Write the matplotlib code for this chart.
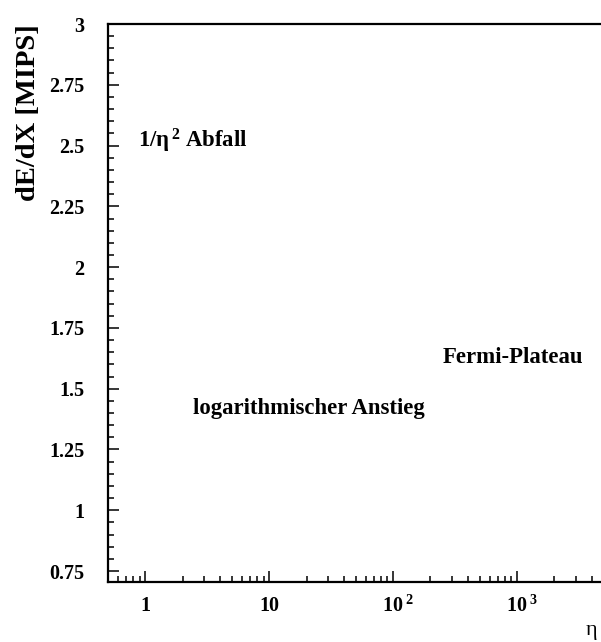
import numpy as np
import matplotlib.pyplot as plt
import matplotlib.transforms as mtransforms
from matplotlib.ticker import FixedLocator, FixedFormatter, LogLocator, MultipleLocator

# axis ticks and labels
x_ticks = [1, 10, 100, 1000]
x_tick_labels = ['1', '10', r'10$^{\;\mathbf{2}}$', r'10$^{\;\mathbf{3}}$']
y_ticks = [0.75, 1.0, 1.25, 1.5, 1.75, 2.0, 2.25, 2.5, 2.75, 3.0]
y_tick_labels = ['0.75', '1', '1.25', '1.5', '1.75', '2', '2.25', '2.5', '2.75', '3']

# region annotations (eta, dE/dX)
notes = [r'1/$\mathbf{\eta}^{\,\mathbf{2}}$ Abfall', 'logarithmischer Anstieg', 'Fermi-Plateau']
note_x = [0.88, 2.44, 253]
note_y = [2.52, 1.42, 1.63]

plt.rcParams['font.family'] = 'Liberation Serif'
plt.rcParams['font.weight'] = 'bold'
plt.rcParams['mathtext.fontset'] = 'custom'
plt.rcParams['mathtext.rm'] = 'Liberation Serif:bold'
plt.rcParams['mathtext.bf'] = 'Liberation Serif:bold'
plt.rcParams['mathtext.it'] = 'Liberation Serif:bold'

W, H = 601, 642
fig = plt.figure(figsize=(W / 100, H / 100), dpi=100)
ax = fig.add_axes([108 / W, 60 / H, (603.7 - 108) / W, (582 - 24) / H])

ax.set_xscale('log')
ax.set_xlim(0.5, 5000)
ax.set_ylim(0.705, 3.0)

ax.xaxis.set_major_locator(FixedLocator(x_ticks))
ax.xaxis.set_major_formatter(FixedFormatter(x_tick_labels))
ax.xaxis.set_minor_locator(LogLocator(base=10, subs=np.arange(2, 10), numticks=20))
ax.xaxis.set_minor_formatter(FixedFormatter([]))
ax.yaxis.set_major_locator(FixedLocator(y_ticks))
ax.yaxis.set_major_formatter(FixedFormatter(y_tick_labels))
ax.yaxis.set_minor_locator(MultipleLocator(0.05))

ax.tick_params(which='major', direction='in', length=8, width=1.1, labelsize=14.5)
ax.tick_params(which='minor', direction='in', length=4, width=1.1)
ax.tick_params(axis='y', which='both', right=False, pad=17)
ax.tick_params(axis='x', which='both', top=False, pad=10)

for s in ax.spines.values():
    s.set_linewidth(1.6)
ax.spines['right'].set_visible(False)

# centre the "10" of the power labels on the tick, exponent hangs to the right
shift = mtransforms.ScaledTranslation(5 / 100, 0, fig.dpi_scale_trans)
for lab in ax.get_xticklabels()[2:]:
    lab.set_transform(lab.get_transform() + shift)

for t, x, y in zip(notes, note_x, note_y):
    ax.text(x, y, t, fontsize=16.4, fontweight='bold', ha='left', va='center')

fig.text(29 / W, 1 - 24 / H, 'dE/dX [MIPS]', rotation=90, fontsize=20.5,
         fontweight='bold', ha='center', va='top')
fig.text(592 / W, 1 - 630 / H, 'η', fontsize=16, fontweight='normal',
         ha='center', va='center')

fig.savefig('out.png', dpi=100)
